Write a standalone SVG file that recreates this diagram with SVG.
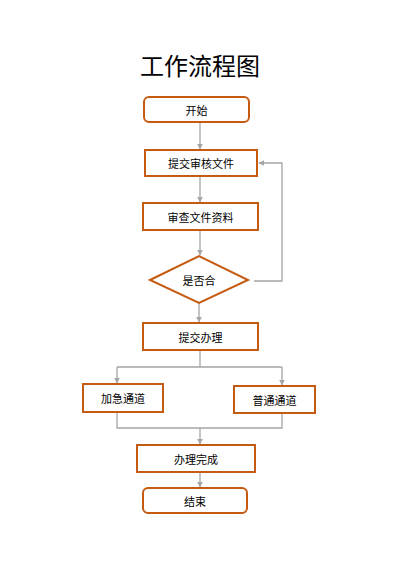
<svg xmlns="http://www.w3.org/2000/svg" width="400" height="565" viewBox="0 0 400 565">
<style>
.box{fill:#fff;stroke:#C55A11;stroke-width:2}
.lbl{font-family:"Noto Sans CJK SC","Noto Sans",sans-serif;font-size:11px;fill:#000;text-anchor:middle;dominant-baseline:central}
.ln{fill:none;stroke:#A5A5A5;stroke-width:1.3}
</style>
<defs>
<marker id="ah" viewBox="0 0 10 10" refX="9" refY="5" markerWidth="6" markerHeight="6" markerUnits="userSpaceOnUse" orient="auto"><path d="M0,0 L10,5 L0,10 z" fill="#A5A5A5"/></marker>
</defs>
<rect width="400" height="565" fill="#fff"/>
<text x="200" y="64" font-family="Noto Sans CJK SC,sans-serif" font-size="24" text-anchor="middle" dominant-baseline="central" fill="#000">工作流程图</text>
<g id="connectors">
<path class="ln" d="M200,122 V149" marker-end="url(#ah)"/>
<path class="ln" d="M200,176 V202" marker-end="url(#ah)"/>
<path class="ln" d="M200,230 V255" marker-end="url(#ah)"/>
<path class="ln" d="M254,281 H282 V163 H259" marker-end="url(#ah)"/>
<path class="ln" d="M199,303 V322" marker-end="url(#ah)"/>
<path class="ln" d="M200,350 V367"/>
<path class="ln" d="M117,367 H282"/>
<path class="ln" d="M117,367 V383" marker-end="url(#ah)"/>
<path class="ln" d="M282,367 V385" marker-end="url(#ah)"/>
<path class="ln" d="M117,412 V428 H282 V413"/>
<path class="ln" d="M200,428 V444" marker-end="url(#ah)"/>
<path class="ln" d="M200,472 V487" marker-end="url(#ah)"/>
</g>
<g id="start"><rect class="box" x="144" y="97" width="105" height="25" rx="5"/><text class="lbl" x="196.5" y="110">开始</text></g>
<g id="submit"><rect class="box" x="145" y="150" width="112" height="26"/><text class="lbl" x="201" y="163">提交审核文件</text></g>
<g id="review"><rect class="box" x="143" y="203" width="115" height="27"/><text class="lbl" x="200.5" y="216.5">审查文件资料</text></g>
<g id="decision"><polygon class="box" points="150,280 199,256 248,280 199,303"/><text class="lbl" x="199" y="280">是否合</text></g>
<g id="handle"><rect class="box" x="143" y="323" width="115" height="27"/><text class="lbl" x="200.5" y="336.5">提交办理</text></g>
<g id="urgent"><rect class="box" x="83" y="384" width="80" height="28"/><text class="lbl" x="123" y="398">加急通道</text></g>
<g id="normal"><rect class="box" x="234" y="386" width="81" height="27"/><text class="lbl" x="274.5" y="399.5">普通通道</text></g>
<g id="done"><rect class="box" x="137" y="445" width="118" height="27"/><text class="lbl" x="196" y="458.5">办理完成</text></g>
<g id="end"><rect class="box" x="143" y="488" width="104" height="25" rx="5"/><text class="lbl" x="195" y="500.5">结束</text></g>
</svg>
